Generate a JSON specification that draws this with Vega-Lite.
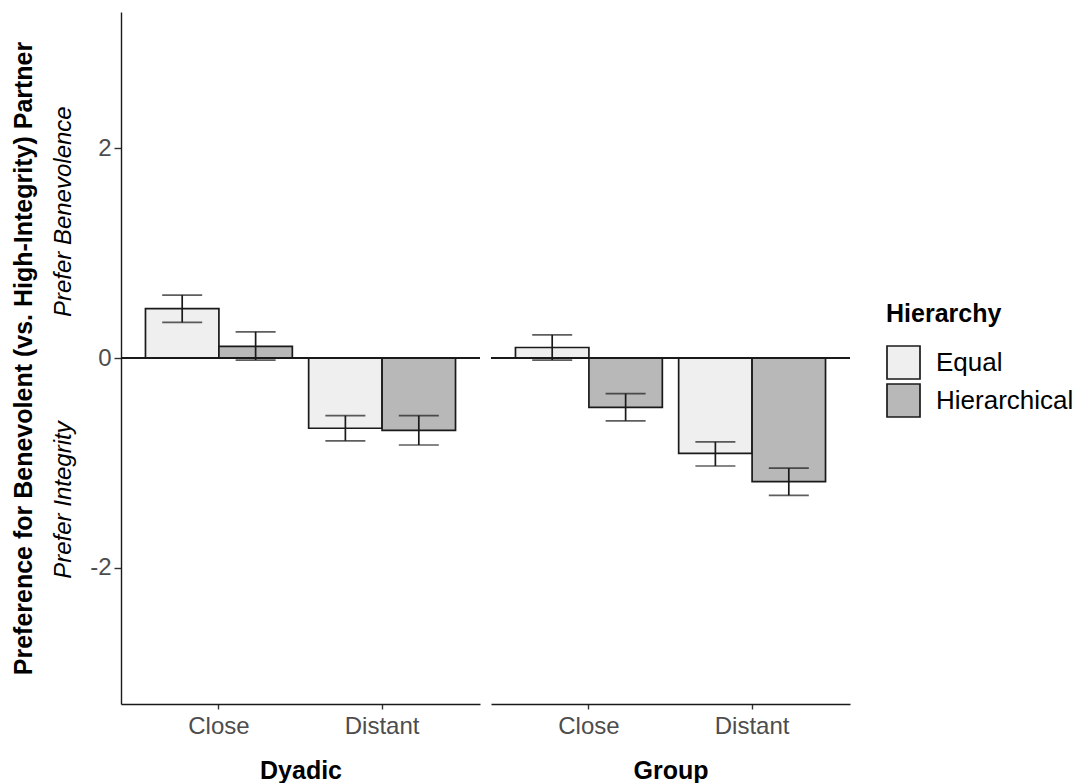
{
  "$schema": "https://vega.github.io/schema/vega-lite/v6.json",
  "padding": {"left": 10, "top": 12, "right": 0, "bottom": 0},
  "background": "white",
  "config": {
    "font": "Liberation Sans",
    "view": {"stroke": null},
    "axis": {
      "grid": false,
      "labelFont": "Liberation Sans",
      "labelFontSize": 24,
      "labelColor": "#4d4d4d",
      "domainColor": "#1a1a1a",
      "domainWidth": 1.4,
      "tickColor": "#333333",
      "tickWidth": 1.4,
      "titleFont": "Liberation Sans",
      "titleFontSize": 25,
      "titleFontWeight": "bold",
      "titleColor": "black"
    }
  },
  "data": {
    "values": [
      {"Type": "Dyadic", "Distance": "Close", "Hierarchy": "Equal", "mean": 0.47, "lo": 0.34, "hi": 0.6},
      {"Type": "Dyadic", "Distance": "Close", "Hierarchy": "Hierarchical", "mean": 0.11, "lo": -0.02, "hi": 0.25},
      {"Type": "Dyadic", "Distance": "Distant", "Hierarchy": "Equal", "mean": -0.67, "lo": -0.79, "hi": -0.55},
      {"Type": "Dyadic", "Distance": "Distant", "Hierarchy": "Hierarchical", "mean": -0.69, "lo": -0.83, "hi": -0.55},
      {"Type": "Group", "Distance": "Close", "Hierarchy": "Equal", "mean": 0.1, "lo": -0.02, "hi": 0.22},
      {"Type": "Group", "Distance": "Close", "Hierarchy": "Hierarchical", "mean": -0.47, "lo": -0.6, "hi": -0.34},
      {"Type": "Group", "Distance": "Distant", "Hierarchy": "Equal", "mean": -0.91, "lo": -1.03, "hi": -0.8},
      {"Type": "Group", "Distance": "Distant", "Hierarchy": "Hierarchical", "mean": -1.18, "lo": -1.31, "hi": -1.05}
    ]
  },
  "spacing": 9,
  "hconcat": [
    {
      "transform": [{"filter": "datum.Type === 'Dyadic'"}],
      "width": 359,
      "height": 692,
      "layer": [
        {
          "mark": {"type": "bar", "stroke": "#1a1a1a", "strokeWidth": 1.7},
          "encoding": {
            "x": {"field": "Distance", "type": "nominal", "scale": {"domain": ["Close", "Distant"], "paddingInner": 0.1, "paddingOuter": 0.15},
              "axis": {"title": "Dyadic", "labelAngle": 0, "tickSize": 5, "labelPadding": 5, "titlePadding": 20}},
            "xOffset": {"field": "Hierarchy", "type": "nominal", "scale": {"domain": ["Equal", "Hierarchical"], "paddingInner": 0, "paddingOuter": 0}},
            "y": {"field": "mean", "type": "quantitative", "scale": {"domain": [-3.3, 3.3], "nice": false, "zero": false},
              "axis": {"title": null, "values": [-2, 0, 2], "labelExpr": "'' + datum.value", "tickSize": 7, "labelPadding": 3, "orient": "left"}},
            "fill": {"field": "Hierarchy", "type": "nominal", "scale": {"domain": ["Equal", "Hierarchical"], "range": ["#efefef", "#b8b8b8"]},
              "legend": {"orient": "none", "legendX": 765, "legendY": 290, "title": "Hierarchy", "titleFontSize": 25, "titleFontWeight": "bold", "titleColor": "black", "titlePadding": 18, "labelFontSize": 26, "labelColor": "black", "labelOffset": 15, "labelLimit": 300, "symbolType": "square", "symbolSize": 1089, "symbolStrokeColor": "#1a1a1a", "symbolStrokeWidth": 1.7, "rowPadding": -4, "padding": 0}}
          }
        },
        {
          "mark": {"type": "rule", "color": "#1a1a1a", "strokeWidth": 1.7},
          "encoding": {"y": {"datum": 0, "axis": null}}
        },
        {
          "mark": {"type": "rule", "color": "#1a1a1a", "strokeWidth": 1.7},
          "encoding": {
            "x": {"field": "Distance", "type": "nominal"},
            "xOffset": {"field": "Hierarchy", "type": "nominal"},
            "y": {"field": "lo", "type": "quantitative",
              "axis": {"orient": "left", "offset": 47, "domain": false, "ticks": false, "tickSize": 0, "labelPadding": 4, "values": [1.4, -1.35],
                "labelExpr": "datum.value > 0 ? 'Prefer Benevolence' : 'Prefer Integrity'", "labelAngle": -90, "labelAlign": "center", "labelBaseline": "alphabetic",
                "labelFontStyle": "italic", "labelColor": "black", "labelFontSize": 24, "labelOverlap": false, "labelFlush": false, "labelBound": false, "labelLimit": 400,
                "title": "Preference for Benevolent (vs. High-Integrity) Partner", "titlePadding": 15}},
            "y2": {"field": "hi"}
          }
        },
        {
          "mark": {"type": "tick", "size": 40, "thickness": 1.7, "color": "#1a1a1a"},
          "encoding": {
            "x": {"field": "Distance", "type": "nominal"},
            "xOffset": {"field": "Hierarchy", "type": "nominal"},
            "y": {"field": "lo", "type": "quantitative", "axis": null}
          }
        },
        {
          "mark": {"type": "tick", "size": 40, "thickness": 1.7, "color": "#1a1a1a"},
          "encoding": {
            "x": {"field": "Distance", "type": "nominal"},
            "xOffset": {"field": "Hierarchy", "type": "nominal"},
            "y": {"field": "hi", "type": "quantitative", "axis": null}
          }
        }
      ],
      "resolve": {"axis": {"y": "independent"}}
    },
    {
      "transform": [{"filter": "datum.Type === 'Group'"}],
      "width": 359,
      "height": 692,
      "layer": [
        {
          "mark": {"type": "bar", "stroke": "#1a1a1a", "strokeWidth": 1.7},
          "encoding": {
            "x": {"field": "Distance", "type": "nominal", "scale": {"domain": ["Close", "Distant"], "paddingInner": 0.1, "paddingOuter": 0.15},
              "axis": {"title": "Group", "labelAngle": 0, "tickSize": 5, "labelPadding": 5, "titlePadding": 20}},
            "xOffset": {"field": "Hierarchy", "type": "nominal", "scale": {"domain": ["Equal", "Hierarchical"], "paddingInner": 0, "paddingOuter": 0}},
            "y": {"field": "mean", "type": "quantitative", "scale": {"domain": [-3.3, 3.3], "nice": false, "zero": false}, "axis": null},
            "fill": {"field": "Hierarchy", "type": "nominal", "scale": {"domain": ["Equal", "Hierarchical"], "range": ["#efefef", "#b8b8b8"]},
              "legend": {"orient": "none", "legendX": 765, "legendY": 290, "title": "Hierarchy", "titleFontSize": 25, "titleFontWeight": "bold", "titleColor": "black", "titlePadding": 18, "labelFontSize": 26, "labelColor": "black", "labelOffset": 15, "labelLimit": 300, "symbolType": "square", "symbolSize": 1089, "symbolStrokeColor": "#1a1a1a", "symbolStrokeWidth": 1.7, "rowPadding": -4, "padding": 0}}
          }
        },
        {
          "mark": {"type": "rule", "color": "#1a1a1a", "strokeWidth": 1.7},
          "encoding": {"y": {"datum": 0}}
        },
        {
          "mark": {"type": "rule", "color": "#1a1a1a", "strokeWidth": 1.7},
          "encoding": {
            "x": {"field": "Distance", "type": "nominal"},
            "xOffset": {"field": "Hierarchy", "type": "nominal"},
            "y": {"field": "lo", "type": "quantitative"},
            "y2": {"field": "hi"}
          }
        },
        {
          "mark": {"type": "tick", "size": 40, "thickness": 1.7, "color": "#1a1a1a"},
          "encoding": {
            "x": {"field": "Distance", "type": "nominal"},
            "xOffset": {"field": "Hierarchy", "type": "nominal"},
            "y": {"field": "lo", "type": "quantitative"}
          }
        },
        {
          "mark": {"type": "tick", "size": 40, "thickness": 1.7, "color": "#1a1a1a"},
          "encoding": {
            "x": {"field": "Distance", "type": "nominal"},
            "xOffset": {"field": "Hierarchy", "type": "nominal"},
            "y": {"field": "hi", "type": "quantitative"}
          }
        }
      ]
    }
  ],
  "resolve": {"scale": {"fill": "shared", "x": "independent", "y": "shared", "xOffset": "independent"}}
}
